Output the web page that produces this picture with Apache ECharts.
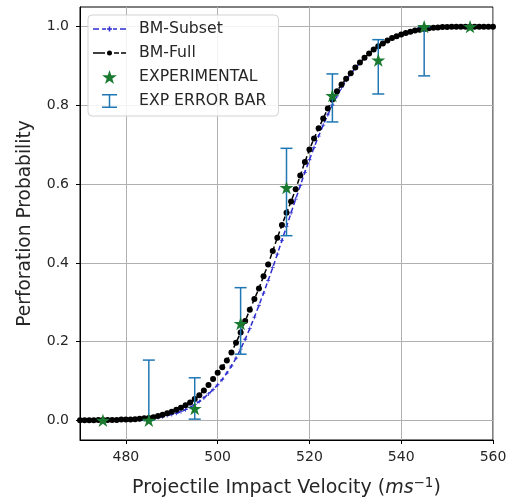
<!DOCTYPE html>
<html><head><meta charset="utf-8">
<script src="https://cdn.jsdelivr.net/npm/echarts@6/dist/echarts.min.js"></script>
<style>html,body{margin:0;padding:0;background:#fff}#c{width:517px;height:497px}</style>
</head><body><div id="c"></div><script>
const xTicks = [480, 500, 520, 540, 560];
const yTicks = [0, 0.2, 0.4, 0.6, 0.8, 1.0];

const velocity = [470,471,472,473,474,475,476,477,478,479,
  480,481,482,483,484,485,486,487,488,489,
  490,491,492,493,494,495,496,497,498,499,
  500,501,502,503,504,505,506,507,508,509,
  510,511,512,513,514,515,516,517,518,519,
  520,521,522,523,524,525,526,527,528,529,
  530,531,532,533,534,535,536,537,538,539,
  540,541,542,543,544,545,546,547,548,549,
  550,551,552,553,554,555,556,557,558,559,560];

const bmFull = [0,0,0,0,0.001,0.001,0.001,0.001,0.001,0.002,
  0.002,0.002,0.003,0.004,0.005,0.006,0.008,0.011,0.014,0.018,
  0.022,0.027,0.032,0.038,0.045,0.054,0.064,0.076,0.090,0.105,
  0.121,0.135,0.152,0.172,0.197,0.223,0.252,0.281,0.308,0.335,
  0.366,0.396,0.430,0.464,0.496,0.527,0.556,0.587,0.622,0.656,
  0.688,0.716,0.742,0.767,0.792,0.815,0.836,0.853,0.868,0.882,
  0.896,0.909,0.921,0.932,0.942,0.950,0.957,0.965,0.971,0.976,
  0.980,0.984,0.987,0.990,0.992,0.994,0.996,0.997,0.998,0.999,
  0.999,1,1,1,1,1,1,1,1,1,1];

const bmSubset = [0,0,0,0,0,0,0,0.001,0.001,0.001,
  0.001,0.001,0.002,0.002,0.003,0.004,0.005,0.007,0.009,0.012,
  0.015,0.018,0.022,0.027,0.033,0.040,0.048,0.057,0.067,0.078,
  0.090,0.104,0.120,0.138,0.158,0.181,0.206,0.233,0.262,0.292,
  0.323,0.355,0.388,0.422,0.457,0.492,0.527,0.562,0.596,0.630,
  0.662,0.693,0.722,0.750,0.776,0.801,0.824,0.845,0.864,0.880,
  0.895,0.908,0.920,0.931,0.941,0.949,0.957,0.964,0.970,0.975,
  0.980,0.984,0.987,0.990,0.992,0.994,0.996,0.997,0.998,0.999,
  0.999,1,1,1,1,1,1,1,1,1,1];

const expX = [475, 485, 495, 505, 515, 525, 535, 545, 555];
const expY = [0, 0, 0.03, 0.246, 0.591, 0.825, 0.915, 1.0, 1.0];

const errX = [485, 495, 505, 515, 525, 535, 545];
const errLow = [0, 0.003, 0.168, 0.469, 0.758, 0.829, 0.875];
const errHigh = [0.153, 0.108, 0.337, 0.691, 0.880, 0.967, 1.0];

const FONT = 'DejaVu Sans';
const blue = '#2e2ed0';
const errColor = '#1f77b4';
const green = '#1a7a30';
const star = 'path://M10,0L12.25,6.91L19.51,6.91L13.63,11.18L15.88,18.09L10,13.82L4.12,18.09L6.37,11.18L0.49,6.91L7.75,6.91Z';
const ibeam = 'path://M0,0H15V1.5H8.25V12.5H15V14H0V12.5H6.75V1.5H0Z';
const plus = 'path://M4,0H6V4H10V6H6V10H4V6H0V4H4Z';
const fullIcon = 'path://M0,1.75H12V3.25H0Z M14,2.5A2.5,2.5 0 1,0 19,2.5A2.5,2.5 0 1,0 14,2.5Z M21,1.75H26V3.25H21Z M28,1.75H33V3.25H28Z';
const subsetIcon = 'path://M0,1.75H6V3.25H0Z M9,1.75H13V3.25H9Z M14,1.75H15.75V0H17.25V1.75H19V3.25H17.25V5H15.75V3.25H14Z M20,1.75H24V3.25H20Z M27,1.75H33V3.25H27Z';

const chart = echarts.init(document.getElementById('c'));
chart.setOption({
  animation: false,
  backgroundColor: '#fff',
  textStyle: { fontFamily: FONT },
  grid: { left: 80, right: 24, top: 7, bottom: 57, show: true, borderColor: '#000', borderWidth: 1,
    backgroundColor: 'transparent', containLabel: false, outerBoundsMode: 'none' },
  legend: {
    orient: 'vertical', left: 88, top: 15,
    padding: [6, 12, 7, 5], itemGap: 8, itemWidth: 33, itemHeight: 14,
    backgroundColor: 'rgba(255,255,255,0.85)', borderColor: '#d3d3d3', borderWidth: 1, borderRadius: 4,
    textStyle: { fontFamily: FONT, fontSize: 15.7, color: '#262626', padding: [0, 0, 0, 8] },
    data: [
      { name: 'BM-Subset', icon: subsetIcon },
      { name: 'BM-Full', icon: fullIcon },
      { name: 'EXPERIMENTAL', icon: star },
      { name: 'EXP ERROR BAR', icon: ibeam }
    ]
  },
  xAxis: {
    type: 'value', min: 470, max: 560,
    name: 'Projectile Impact Velocity ({i|ms}{s|−1})',
    nameLocation: 'middle', nameGap: 36,
    nameTextStyle: {
      fontFamily: FONT, fontSize: 19, color: '#262626',
      rich: {
        i: { fontFamily: FONT, fontSize: 19, fontStyle: 'italic', color: '#262626' },
        s: { fontFamily: FONT, fontSize: 13.5, color: '#262626', padding: [0, 0, 10, 0] }
      }
    },
    axisLine: { show: true, onZero: false, lineStyle: { color: '#000', width: 1 } },
    axisTick: { show: true, length: 4, customValues: xTicks, lineStyle: { color: '#000' } },
    axisLabel: { customValues: xTicks, fontSize: 14, color: '#262626', margin: 10, fontFamily: FONT },
    splitLine: { show: true, lineStyle: { color: '#b0b0b0', width: 1 } }
  },
  yAxis: {
    type: 'value', min: -0.05, max: 1.05,
    name: 'Perforation Probability',
    nameLocation: 'middle', nameGap: 45, nameRotate: 90,
    nameTextStyle: { fontFamily: FONT, fontSize: 18.6, color: '#262626' },
    axisLine: { show: true, onZero: false, lineStyle: { color: '#000', width: 1 } },
    axisTick: { show: true, length: 4, customValues: yTicks, lineStyle: { color: '#000' } },
    axisLabel: { customValues: yTicks, fontSize: 14, color: '#262626', margin: 11, fontFamily: FONT,
      formatter: v => v.toFixed(1) },
    splitLine: { show: true, lineStyle: { color: '#b0b0b0', width: 1 } }
  },
  series: [
    {
      name: 'BM-Subset', type: 'line', z: 2,
      data: velocity.map((v, i) => [v, bmSubset[i]]),
      symbol: plus, symbolSize: 4, showSymbol: true,
      lineStyle: { color: blue, width: 1.5, type: [5, 3] },
      itemStyle: { color: blue }
    },
    {
      name: 'BM-Full', type: 'line', z: 3,
      data: velocity.map((v, i) => [v, bmFull[i]]),
      symbol: 'circle', symbolSize: 6, showSymbol: true,
      lineStyle: { color: '#000', width: 1.5, type: [5, 3] },
      itemStyle: { color: '#000' }
    },
    {
      name: 'EXP ERROR BAR', type: 'custom', z: 4,
      itemStyle: { color: errColor },
      data: errX.map((v, i) => [v, errLow[i], errHigh[i]]),
      encode: { x: 0, y: [1, 2] },
      renderItem: function (params, api) {
        const x = api.value(0), lo = api.value(1), hi = api.value(2);
        const pLo = api.coord([x, lo]), pHi = api.coord([x, hi]);
        const hw = 6;
        const style = { stroke: errColor, lineWidth: 1.5, fill: null };
        return { type: 'group', children: [
          { type: 'line', shape: { x1: pLo[0], y1: pLo[1], x2: pHi[0], y2: pHi[1] }, style: style },
          { type: 'line', shape: { x1: pLo[0] - hw, y1: pLo[1], x2: pLo[0] + hw, y2: pLo[1] }, style: style },
          { type: 'line', shape: { x1: pHi[0] - hw, y1: pHi[1], x2: pHi[0] + hw, y2: pHi[1] }, style: style }
        ] };
      }
    },
    {
      name: 'EXPERIMENTAL', type: 'scatter', z: 5,
      data: expX.map((v, i) => [v, expY[i]]),
      symbol: star, symbolSize: 14, symbolKeepAspect: true,
      itemStyle: { color: green, opacity: 1 }
    }
  ]
});
</script></body></html>
